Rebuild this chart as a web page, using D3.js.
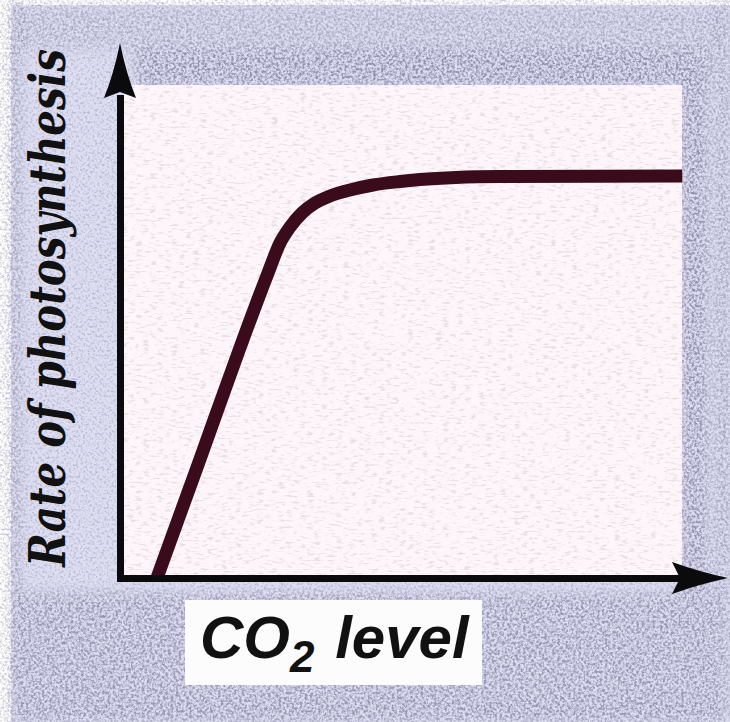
<!DOCTYPE html>
<html><head><meta charset="utf-8">
<script src="https://cdn.jsdelivr.net/npm/d3@7"></script>
<style>html,body{margin:0;padding:0;background:#fff;} svg{display:block;}</style>
</head><body>
<svg id="chart" width="730" height="722"></svg>
<script>
// Data (arbitrary units)
const co2Level = [0.66, 1.43, 2.14, 2.643, 2.857, 3.036, 3.25, 3.482, 3.75, 4.107, 4.518, 5.0, 5.357, 6.0, 6.8, 10.04];
const photosynthesisRate = [0, 2.48, 4.79, 6.354, 6.979, 7.3125, 7.604, 7.8125, 7.958, 8.083, 8.1875, 8.26, 8.30, 8.345, 8.365, 8.375];
const xAxisLabel = ["CO", "2", " level"];
const yAxisLabel = "Rate of photosynthesis";

const W = 730, H = 722;
const svg = d3.select("#chart");
const x = d3.scaleLinear().domain([0, 10]).range([120, 680]);
const y = d3.scaleLinear().domain([0, 10]).range([578, 98]);

const defs = svg.append("defs");
function grainFilter(id, freq, seed, matrix) {
  const f = defs.append("filter").attr("id", id)
    .attr("filterUnits", "userSpaceOnUse").attr("x", 0).attr("y", 0).attr("width", W).attr("height", H);
  f.append("feTurbulence").attr("type", "fractalNoise").attr("baseFrequency", freq)
    .attr("numOctaves", 2).attr("seed", seed);
  f.append("feColorMatrix").attr("type", "matrix").attr("values", matrix);
}
grainFilter("grain", "0.42", 7, "0 0 0 0 0.30  0 0 0 0 0.30  0 0 0 0 0.46  -3.6 0 0 0 1.95");
grainFilter("grain2", "0.38", 19, "0 0 0 0 0.26  0 0 0 0 0.26  0 0 0 0 0.40  -3.8 0 0 0 2.2");
grainFilter("paper", "0.14 0.45", 3, "0 0 0 0 0.45  0 0 0 0 0.42  0 0 0 0 0.45  -5 0 0 0 2.25");

const blur = defs.append("filter").attr("id", "soft").attr("x", "-20%").attr("y", "-20%").attr("width", "140%").attr("height", "140%");
blur.append("feGaussianBlur").attr("stdDeviation", 6);

const mask = defs.append("mask").attr("id", "denseMask")
  .attr("maskUnits", "userSpaceOnUse").attr("x", 0).attr("y", 0).attr("width", W).attr("height", H);
mask.append("rect").attr("width", W).attr("height", H).attr("fill", "#000");
const mg = mask.append("g").attr("filter", "url(#soft)");
[
  [135, 48, 575, 40, "#fff"],
  [680, 48, 28, 560, "#fff"],
  [10, 592, 720, 130, "#ddd"],
  [10, 5, 720, 45, "#888"],
  [10, 0, 10, 722, "#fff"],
  [10, 708, 720, 14, "#fff"],
  [716, 0, 14, 722, "#ccc"]
].forEach(r => mg.append("rect").attr("x", r[0]).attr("y", r[1]).attr("width", r[2]).attr("height", r[3]).attr("fill", r[4]));

// background
svg.append("rect").attr("width", W).attr("height", H).attr("fill", "#fff");
svg.append("rect").attr("x", 11).attr("y", 5).attr("width", W - 11).attr("height", H - 5).attr("fill", "#dedef2");
svg.append("rect").attr("x", 11).attr("y", 5).attr("width", W - 11).attr("height", H - 5)
  .attr("filter", "url(#grain)").attr("opacity", 0.45);
svg.append("rect").attr("x", 11).attr("y", 5).attr("width", W - 11).attr("height", H - 5)
  .attr("filter", "url(#grain2)").attr("mask", "url(#denseMask)").attr("opacity", 0.9);

// inner paper panel
const panel = { x0: x(0) + 3.5, x1: 682, y0: 85, y1: y(0) };
defs.append("clipPath").attr("id", "panelClip").append("rect")
  .attr("x", panel.x0).attr("y", panel.y0).attr("width", panel.x1 - panel.x0).attr("height", panel.y1 - panel.y0);
svg.append("rect").attr("x", panel.x0).attr("y", panel.y0).attr("width", panel.x1 - panel.x0).attr("height", panel.y1 - panel.y0)
  .attr("fill", "#fdf5f9");
svg.append("g").attr("clip-path", "url(#panelClip)").append("rect")
  .attr("x", panel.x0 + 15).attr("y", panel.y0 + 10).attr("width", panel.x1 - panel.x0 - 30).attr("height", panel.y1 - panel.y0 - 30)
  .attr("filter", "url(#paper)").attr("opacity", 0.3);

// label box
svg.append("rect").attr("x", 185).attr("y", 600).attr("width", 297).attr("height", 85).attr("fill", "#fcfcfd");

// curve
const data = co2Level.map((c, i) => [c, photosynthesisRate[i]]);
svg.append("path").datum(data)
  .attr("d", d3.line().x(d => x(d[0])).y(d => y(d[1])).curve(d3.curveMonotoneX))
  .attr("fill", "none").attr("stroke", "#3a0b1b").attr("stroke-width", 13);

// axes
const axisColor = "#0b0b0d";
svg.append("g").attr("transform", `translate(0,${y(0)})`)
  .call(d3.axisBottom(x).tickValues([]).tickSizeOuter(0))
  .call(g => g.select(".domain").attr("stroke", axisColor).attr("stroke-width", 7).attr("stroke-linecap", "square"));
svg.append("g").attr("transform", `translate(${x(0)},0)`)
  .call(d3.axisLeft(y).tickValues([]).tickSizeOuter(0))
  .call(g => g.select(".domain").attr("stroke", axisColor).attr("stroke-width", 7).attr("stroke-linecap", "square"));

// arrowheads
const xe = x.range()[1], y0 = y(0), xa = x(0), ye = y.range()[1];
svg.append("path").attr("fill", axisColor)
  .attr("d", `M${xe + 48},${y0} Q${xe + 20},${y0 - 6} ${xe - 8},${y0 - 16} L${xe},${y0} L${xe - 8},${y0 + 16} Q${xe + 20},${y0 + 6} ${xe + 48},${y0} Z`);
svg.append("path").attr("fill", axisColor)
  .attr("d", `M${xa},${ye - 55} Q${xa - 6},${ye - 25} ${xa - 16},${ye} L${xa},${ye - 6} L${xa + 16},${ye} Q${xa + 6},${ye - 25} ${xa},${ye - 55} Z`);

// y label: size so that its natural length matches, then stretch glyph height
const targetLen = 518, baseSize = 50;
const yl = svg.append("text")
  .attr("text-anchor", "middle")
  .attr("font-family", "'DejaVu Serif', serif")
  .attr("font-weight", "bold").attr("font-style", "italic")
  .attr("font-size", baseSize)
  .attr("fill", "#111")
  .text(yAxisLabel);
const natLen = yl.node().getComputedTextLength() || targetLen;
const fs = baseSize * targetLen / natLen;
const k = baseSize / fs;
yl.attr("font-size", fs)
  .attr("transform", `translate(65,308) rotate(-90) scale(1,${k})`);

// x label
const xl = svg.append("text").attr("x", 200).attr("y", 658)
  .attr("font-family", "'Liberation Sans', Arial, sans-serif")
  .attr("font-weight", "bold").attr("font-style", "italic")
  .attr("font-size", 60).attr("fill", "#111");
xl.append("tspan").text(xAxisLabel[0]);
xl.append("tspan").attr("font-size", 44).attr("dy", 14).text(xAxisLabel[1]);
xl.append("tspan").attr("dy", -14).attr("dx", 4).text(xAxisLabel[2]);
</script>
</body></html>
